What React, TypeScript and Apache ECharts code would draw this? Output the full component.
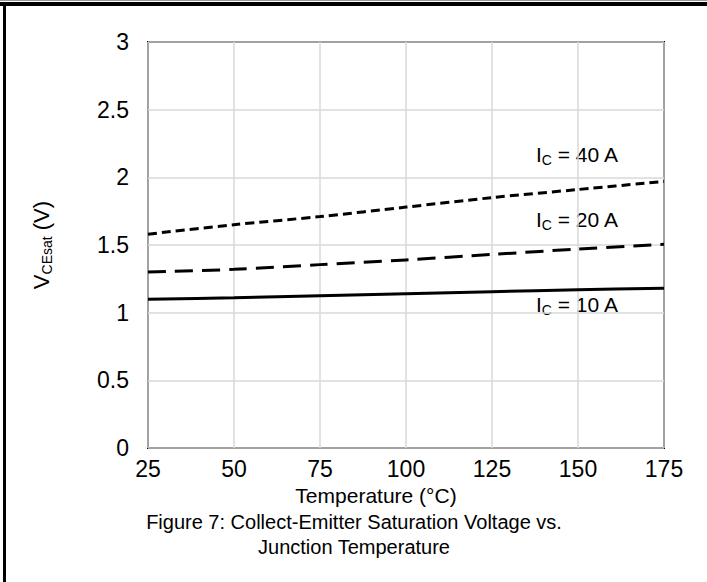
import React, { useEffect, useRef } from "react";
import * as echarts from "echarts";

const temperatures = [25, 50, 75, 100, 125, 150, 175];
const ic40 = [1.58, 1.65, 1.71, 1.78, 1.85, 1.91, 1.97];
const ic20 = [1.3, 1.32, 1.355, 1.39, 1.43, 1.47, 1.505];
const ic10 = [1.1, 1.11, 1.125, 1.14, 1.155, 1.17, 1.18];
const seriesNames = ["IC = 40 A", "IC = 20 A", "IC = 10 A"];
const xTicks = { min: 25, max: 175, interval: 25 };
const yTicks = { min: 0, max: 3, interval: 0.5 };

const FONT = "'Liberation Sans', Arial, sans-serif";
const TICK_FS = 23;

export default function App() {
  const ref = useRef<HTMLDivElement>(null);
  useEffect(() => {
    if (!ref.current) return;
    const chart = echarts.init(ref.current, null, { renderer: "svg" });
    const pts = (ys: number[]) => temperatures.map((t, i) => [t, ys[i]]);
    const icLabel = (amp: string, x: number, y: number) => ({
      type: "text",
      left: x,
      top: y,
      style: {
        text: `{m|I}{s|C}{m| = ${amp} A}`,
        fill: "#000",
        font: `21px ${FONT}`,
        rich: {
          m: { fontSize: 21, fontFamily: FONT, lineHeight: 23, fill: "#000" },
          s: { fontSize: 14, fontFamily: FONT, lineHeight: 14, padding: [11, 0, 0, 0], fill: "#000" },
        },
      },
    });
    chart.setOption({
      animation: false,
      backgroundColor: "#fff",
      grid: {
        left: 148,
        right: 43,
        top: 42,
        bottom: 134,
        show: true,
        borderColor: "#000",
        borderWidth: 2,
        backgroundColor: "transparent",
      },
      xAxis: {
        type: "value",
        min: xTicks.min,
        max: xTicks.max,
        interval: xTicks.interval,
        axisLine: { show: false },
        axisTick: { show: false },
        splitLine: { show: true, lineStyle: { color: "#d9d9d9", width: 1.5 } },
        axisLabel: { color: "#000", fontSize: TICK_FS, fontFamily: FONT, margin: 9 },
      },
      yAxis: {
        type: "value",
        min: yTicks.min,
        max: yTicks.max,
        interval: yTicks.interval,
        axisLine: { show: false },
        axisTick: { show: false },
        splitLine: { show: true, lineStyle: { color: "#d9d9d9", width: 1.5 } },
        axisLabel: { color: "#000", fontSize: TICK_FS, fontFamily: FONT, margin: 19 },
        name: "{m|V}{s|CEsat}{m| (V)}",
        nameLocation: "middle",
        nameRotate: 90,
        nameGap: 95,
        nameTextStyle: {
          color: "#000",
          fontSize: 22,
          fontFamily: FONT,
          rich: {
            m: { fontSize: 22, fontFamily: FONT, lineHeight: 24, color: "#000" },
            s: { fontSize: 14, fontFamily: FONT, lineHeight: 14, padding: [12, 0, 0, 0], color: "#000" },
          },
        },
      },
      series: [
        {
          name: seriesNames[0],
          type: "line",
          data: pts(ic40),
          showSymbol: false,
          smooth: 0.3,
          lineStyle: { color: "#000", width: 3, type: [9, 5] },
          z: 5,
        },
        {
          name: seriesNames[1],
          type: "line",
          data: pts(ic20),
          showSymbol: false,
          smooth: 0.3,
          lineStyle: { color: "#000", width: 3, type: [18, 9] },
          z: 5,
        },
        {
          name: seriesNames[2],
          type: "line",
          data: pts(ic10),
          showSymbol: false,
          smooth: 0.3,
          lineStyle: { color: "#000", width: 3 },
          z: 5,
        },
      ],
      graphic: [
        { type: "rect", left: 0, top: 0, shape: { width: 707, height: 1 }, style: { fill: "#999" } },
        { type: "rect", left: 0, top: 2, shape: { width: 707, height: 4 }, style: { fill: "#000" } },
        { type: "rect", left: 3, top: 2, shape: { width: 3, height: 580 }, style: { fill: "#000" } },
        icLabel("40", 536, 142),
        icLabel("20", 536, 207),
        icLabel("10", 536, 292),
        {
          type: "text",
          x: 376,
          y: 495,
          style: {
            text: "Temperature (°C)",
            fill: "#000",
            font: `21px ${FONT}`,
            align: "center",
            verticalAlign: "middle",
          },
        },
        {
          type: "text",
          x: 354,
          y: 522,
          style: {
            text: "Figure 7: Collect-Emitter Saturation Voltage vs.",
            fill: "#000",
            font: `20px ${FONT}`,
            align: "center",
            verticalAlign: "middle",
          },
        },
        {
          type: "text",
          x: 354,
          y: 547,
          style: {
            text: "Junction Temperature",
            fill: "#000",
            font: `20px ${FONT}`,
            align: "center",
            verticalAlign: "middle",
          },
        },
      ],
    });
    return () => chart.dispose();
  }, []);
  return (
    <div
      ref={ref}
      style={{ position: "fixed", left: 0, top: 0, width: 707, height: 582 }}
    />
  );
}
